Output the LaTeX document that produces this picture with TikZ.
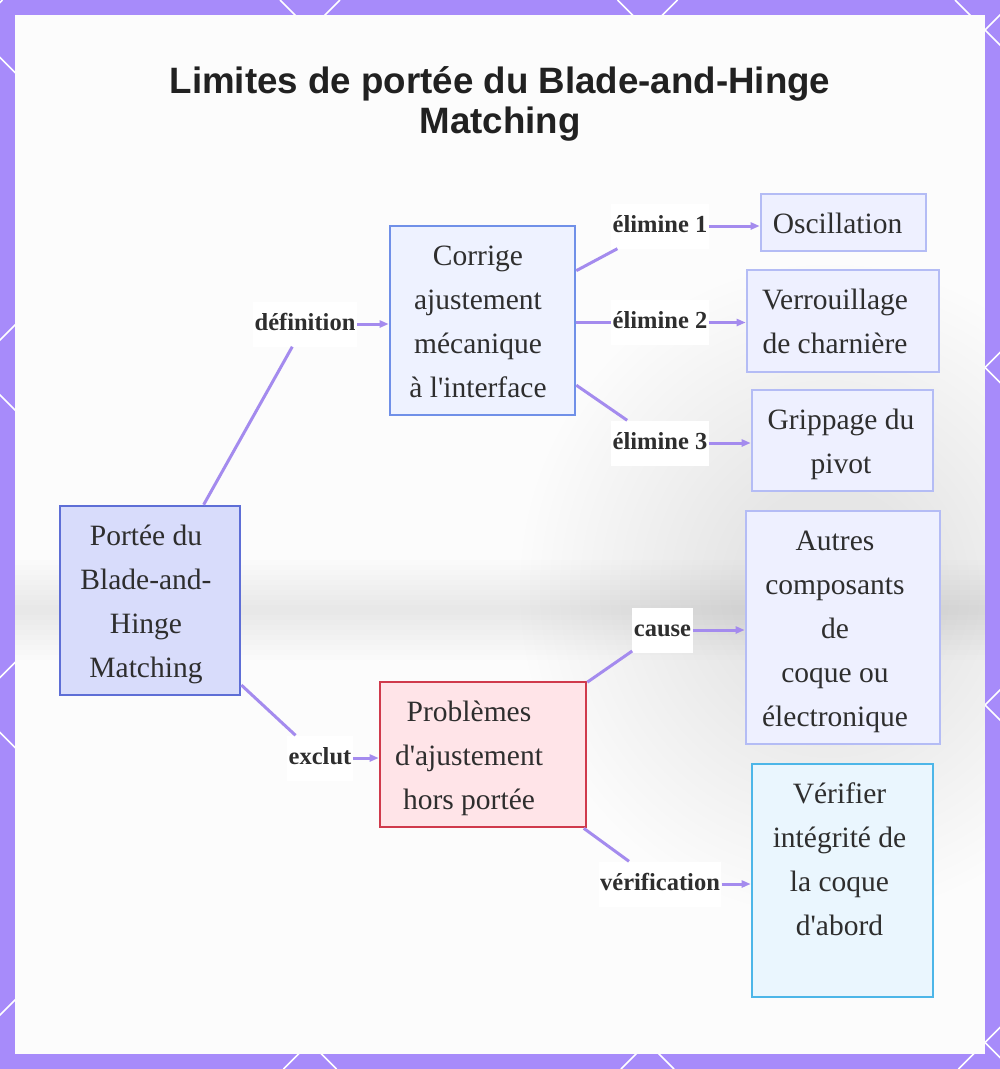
\documentclass[tikz,border=0pt]{standalone}
\usepackage{fontspec}
\setmainfont{Liberation Serif}
\newfontfamily\titlefont{Liberation Sans}
\usetikzlibrary{arrows.meta}
\definecolor{framec}{HTML}{A78BFA}
\definecolor{edgec}{HTML}{A48BEE}
\definecolor{rootfill}{HTML}{D8DCFB}
\definecolor{rootdraw}{HTML}{5E6ED6}
\definecolor{corrfill}{HTML}{EEF2FF}
\definecolor{corrdraw}{HTML}{7090E8}
\definecolor{leaffill}{HTML}{EEF0FF}
\definecolor{leafdraw}{HTML}{B4BCF5}
\definecolor{probfill}{HTML}{FFE4E8}
\definecolor{probdraw}{HTML}{D03A4C}
\definecolor{veriffill}{HTML}{EAF6FE}
\definecolor{verifdraw}{HTML}{4DB6E8}
\definecolor{txt}{HTML}{2E2E2E}
\newcommand\mtext[2]{\raisebox{0pt}[\dimexpr\height+4pt\relax]{\begin{tabular}{@{}c@{}}#2\end{tabular}}\hspace*{#1pt}}
\newcommand\q{\textquotesingle}
\begin{document}
\begin{tikzpicture}[x=1pt,y=-1pt,
  box/.style={draw, line width=2.6pt, text=txt,
    font=\fontsize{29.5}{44}\selectfont, inner sep=0pt},
  lab/.style={fill=white, text=txt, font=\fontsize{24.5}{28}\selectfont\bfseries,
    inner xsep=1.5pt, inner ysep=11.5pt, text height=17pt, text depth=5pt},
  edge/.style={draw=edgec, line width=3pt},
  arr/.style={edge, -{Triangle[length=9pt,width=7pt]}},
  ttl/.style={anchor=base, text=black!87, font=\titlefont\bfseries\fontsize{36.7}{40}\selectfont}
]
\useasboundingbox (0,0) rectangle (1000,1069);
% frame
\fill[framec] (0,0) rectangle (1000,1069);
\begin{scope}
\clip (0,0) rectangle (1000,1069);
\foreach \c in {2.5,340,677.5,1015,1352.5,1690,2027.5}
  \draw[white,line width=1.5pt] (\c,0) -- ({\c-1069},1069);
\foreach \d in {-732.5,-395,-57.5,280,617.5,955}
  \draw[white,line width=1.5pt] (\d,0) -- ({\d+1069},1069);
\end{scope}
\fill[white!99!black] (15,15) rectangle (985,1054);
% faint blurred background
\begin{scope}
\clip (15,15) rectangle (985,1054);
\foreach \w in {100,90,...,10}
  \fill[black, opacity=0.006] (15,{610-\w/2}) rectangle (985,{610+\w/2});
\foreach \r in {310,300,...,100}
  \fill[black, opacity=0.005] (830,590) ellipse [x radius=\r, y radius={\r*1.05}];
\end{scope}
% title
\node[ttl] (t1) at (500,93) {Limites de portée du Blade-and-Hinge};
\node[ttl] (t2) at (500,133) {Matching};
% nodes
\node[box, fill=rootfill, draw=rootdraw, minimum width=180, minimum height=189] (root) at (150,600.5)
  {\mtext{8}{Portée du\\Blade-and-\\Hinge\\Matching}};
\node[box, fill=corrfill, draw=corrdraw, minimum width=185, minimum height=189] (corr) at (482.5,320.5)
  {\mtext{9}{Corrige\\ajustement\\mécanique\\à l\q interface}};
\node[box, fill=leaffill, draw=leafdraw, minimum width=165, minimum height=57] (osc) at (843.5,222.5)
  {\mtext{12}{Oscillation}};
\node[box, fill=leaffill, draw=leafdraw, minimum width=192, minimum height=102] (verr) at (843,321)
  {\mtext{16}{Verrouillage\\de charnière}};
\node[box, fill=leaffill, draw=leafdraw, minimum width=181, minimum height=101] (grip) at (842.5,440.5)
  {\mtext{3}{Grippage du\\pivot}};
\node[box, fill=leaffill, draw=leafdraw, minimum width=194, minimum height=233] (autres) at (843,627.5)
  {\mtext{16}{Autres\\composants\\de\\coque ou\\électronique}};
\node[box, fill=probfill, draw=probdraw, minimum width=206, minimum height=145] (prob) at (483,754.5)
  {\mtext{28}{Problèmes\\d\q ajustement\\hors portée}};
\node[box, fill=veriffill, draw=verifdraw, minimum width=181, minimum height=233] (verif) at (842.5,880.5)
  {\mtext{6}{Vérifier\\intégrité de\\la coque\\d\q abord\\\mbox{}}};
% labels
\node[lab] (ldef) at (305,324) {définition};
\node[lab] (le1) at (660,226) {élimine 1};
\node[lab] (le2) at (660,322.5) {élimine 2};
\node[lab] (le3) at (660,443) {élimine 3};
\node[lab] (lexc) at (320,758) {exclut};
\node[lab] (lcau) at (662.5,630) {cause};
\node[lab] (lver) at (660,884) {vérification};
% connectors
\draw[edge] (root) -- (ldef);
\draw[arr] (ldef.east) -- (ldef.east -| corr.west);
\draw[edge] (corr) -- (le1);
\draw[arr] (le1.east) -- (le1.east -| osc.west);
\draw[edge] (corr.east |- le2) -- (le2);
\draw[arr] (le2.east) -- (le2.east -| verr.west);
\draw[edge] (corr) -- (le3);
\draw[arr] (le3.east) -- (le3.east -| grip.west);
\draw[edge] (root) -- (lexc);
\draw[arr] (lexc.east) -- (lexc.east -| prob.west);
\draw[edge] (prob) -- (lcau);
\draw[arr] (lcau.east) -- (lcau.east -| autres.west);
\draw[edge] (prob) -- (lver);
\draw[arr] (lver.east) -- (lver.east -| verif.west);
\end{tikzpicture}
\end{document}
